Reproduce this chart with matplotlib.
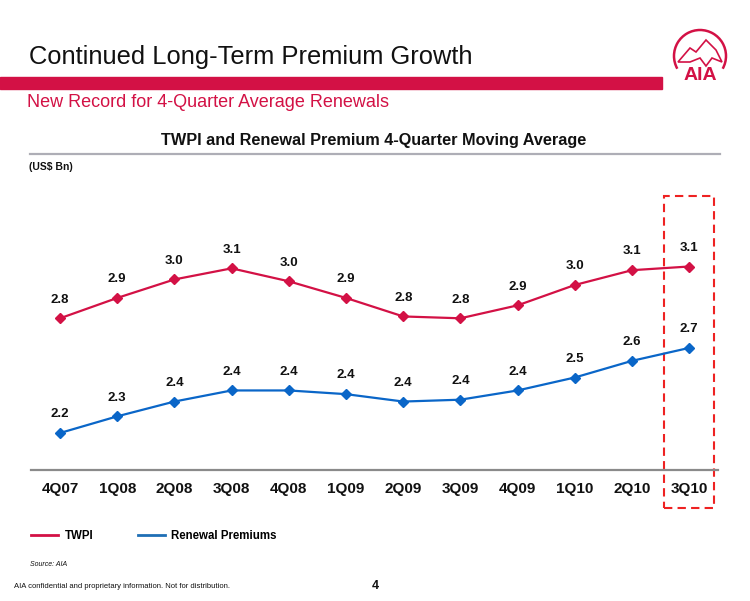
import matplotlib
matplotlib.use("Agg")
import matplotlib.pyplot as plt
from matplotlib.lines import Line2D
from matplotlib.patches import Rectangle, Arc, Polygon
import matplotlib.transforms as mtransforms

plt.rcParams['font.family'] = ['Liberation Sans', 'DejaVu Sans']

# ---- data ----
quarters = ["4Q07", "1Q08", "2Q08", "3Q08", "4Q08", "1Q09",
            "2Q09", "3Q09", "4Q09", "1Q10", "2Q10", "3Q10"]
twpi = [2.82, 2.93, 3.03, 3.09, 3.02, 2.93, 2.83, 2.82, 2.89, 3.00, 3.08, 3.10]
renewal = [2.20, 2.29, 2.37, 2.43, 2.43, 2.41, 2.37, 2.38, 2.43, 2.50, 2.59, 2.66]
series_names = ["TWPI", "Renewal Premiums"]
highlight = "3Q10"

RED = "#D31145"
BLUE = "#0A66C8"
W, H = 750, 601


def fx(px):
    return px / W


def fy(py):
    return 1 - py / H


fig = plt.figure(figsize=(7.5, 6.01), dpi=100)

# ---- header ----
fig.text(fx(29), fy(64), "Continued Long-Term Premium Growth", fontsize=18.4,
         color="#111111", va="baseline", ha="left")
fig.patches.append(Rectangle((0, fy(88.5)), fx(662), (88.5 - 76.5) / H,
                             transform=fig.transFigure, color=RED, zorder=1))
fig.text(fx(27), fy(107), "New Record for 4-Quarter Average Renewals", fontsize=13,
         color=RED, va="baseline", ha="left")
fig.text(fx(374), fy(145), "TWPI and Renewal Premium 4-Quarter Moving Average",
         fontsize=11.7, fontweight="bold", color="#111111", va="baseline", ha="center")
fig.lines.append(Line2D([fx(30), fx(720)], [fy(154), fy(154)], transform=fig.transFigure,
                        color="#AEAEB6", lw=1.6))
fig.text(fx(29), fy(167), "(US$ Bn)", fontsize=7.5, fontweight="bold",
         color="#111111", va="center", ha="left")

# ---- logo ----
cx, cy, r = 700, 56, 26
fig.patches.append(Arc((fx(cx), fy(cy)), 2 * r / W, 2 * r / H, theta1=-35, theta2=215,
                       transform=fig.transFigure, color=RED, lw=1.8))
mount = [(678, 62), (690, 48), (696, 52), (706, 40), (716, 50), (722, 62),
         (712, 58), (706, 66), (700, 58), (690, 62)]
fig.patches.append(Polygon([(fx(a), fy(b)) for a, b in mount], closed=True,
                           transform=fig.transFigure, facecolor="white",
                           edgecolor=RED, lw=1.2))
fig.text(fx(cx), fy(76), "AIA", fontsize=14, fontweight="bold", color=RED,
         ha="center", va="center")

# ---- chart ----
ax = fig.add_axes([fx(31.4), fy(470), 686.4 / W, 277.5 / H])
x = list(range(len(quarters)))
ax.plot(x, twpi, color=RED, lw=1.6, marker="D", markersize=5.5, label=series_names[0])
ax.plot(x, renewal, color=BLUE, lw=1.6, marker="D", markersize=5.5, label=series_names[1])
for xi, v in zip(x, twpi):
    ax.annotate(f"{v:.1f}", (xi, v), xytext=(0, 13.5), textcoords="offset points",
                ha="center", va="center", fontsize=9.5, fontweight="bold", color="#111111")
for xi, v in zip(x, renewal):
    ax.annotate(f"{v:.1f}", (xi, v), xytext=(0, 13.5), textcoords="offset points",
                ha="center", va="center", fontsize=9.5, fontweight="bold", color="#111111")

ax.set_xlim(-0.5, len(quarters) - 0.5)
ax.set_ylim(2.0, 3.5)
ax.set_xticks(x)
ax.set_xticklabels(quarters, fontsize=11, fontweight="bold", color="#111111")
ax.tick_params(axis="x", length=0, pad=9)
ax.set_yticks([])
for s in ["top", "left", "right"]:
    ax.spines[s].set_visible(False)
ax.spines["bottom"].set_color("#8A8A8A")
ax.spines["bottom"].set_linewidth(1.6)
ax.patch.set_alpha(0)

# highlight box around last quarter
hi = quarters.index(highlight)
trans = mtransforms.blended_transform_factory(ax.transData, fig.transFigure)
ax.add_patch(Rectangle((hi - 0.44, fy(508)), 0.88, (508 - 196) / H, transform=trans,
                       fill=False, edgecolor="#EE2222", lw=1.5, linestyle=(0, (4, 2.5)),
                       clip_on=False))

# ---- legend ----
handles = [Line2D([], [], color=RED, lw=2), Line2D([], [], color="#1F6FB5", lw=2)]
leg = fig.legend(handles, series_names, loc="center left",
                 bbox_to_anchor=(fx(31), fy(536)), frameon=False, ncol=2,
                 handlelength=2.3, handletextpad=0.6, columnspacing=3.9,
                 borderpad=0, borderaxespad=0,
                 prop={"size": 8.3, "weight": "bold"})

# ---- footer ----
fig.text(fx(30), fy(565), "Source: AIA", fontsize=5, style="italic",
         color="#111111", va="center", ha="left")
fig.text(fx(14), fy(587), "AIA confidential and proprietary information. Not for distribution.",
         fontsize=5.5, color="#111111", va="center", ha="left")
fig.text(fx(375), fy(586), "4", fontsize=9, fontweight="bold", color="#111111",
         va="center", ha="center")

fig.savefig("out.png", dpi=100)
